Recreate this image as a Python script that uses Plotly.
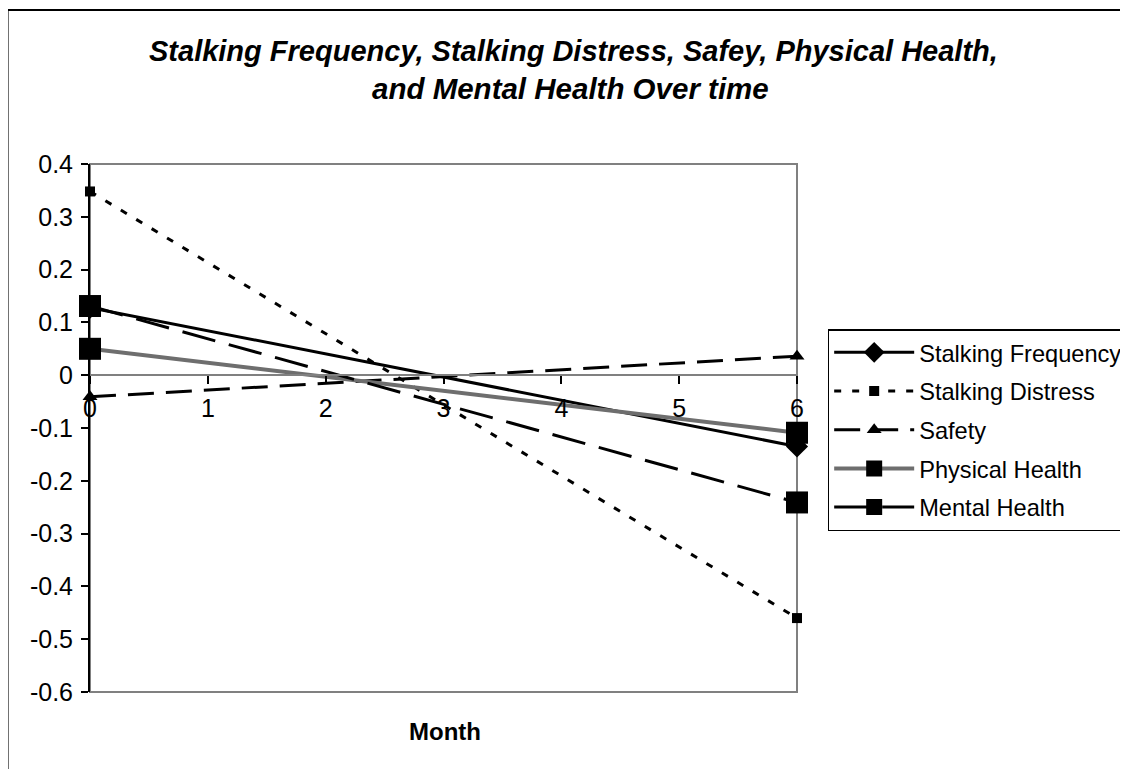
import plotly.graph_objects as go

months = [0, 6]
stalking_frequency = [0.128, -0.135]
stalking_distress = [0.348, -0.46]
safety = [-0.041, 0.036]
physical_health = [0.05, -0.109]
mental_health = [0.131, -0.241]

y_ticks = [0.4, 0.3, 0.2, 0.1, 0, -0.1, -0.2, -0.3, -0.4, -0.5, -0.6]
y_tick_labels = ["0.4", "0.3", "0.2", "0.1", "0", "-0.1", "-0.2", "-0.3", "-0.4", "-0.5", "-0.6"]
x_ticks = [0, 1, 2, 3, 4, 5, 6]

title_line1 = "Stalking Frequency, Stalking Distress, Safey, Physical Health,"
title_line2 = "and Mental Health Over time"

FONT = "Liberation Sans, Arial, sans-serif"

# screenshot offset of the page body (8px default margin)
OFF = 8
PL, PR, PT, PB = 89.5 - OFF, 797 - OFF, 164 - OFF, 692 - OFF
PW, PH = PR - PL, PB - PT
W, H = 1128, 769


def px_x(x):
    return (x - OFF - PL) / PW


def px_y(y):
    return (PB - (y - OFF)) / PH


series = [
    ("Stalking Frequency", stalking_frequency, dict(color="black", width=3, dash="solid"),
     dict(symbol="diamond", size=17, color="black")),
    ("Stalking Distress", stalking_distress, dict(color="black", width=3, dash="7px,11px"),
     dict(symbol="square", size=10, color="black")),
    ("Safety", safety, dict(color="black", width=3, dash="26px,12px"),
     dict(symbol="triangle-up", size=13, color="black")),
    ("Physical Health", physical_health, dict(color="#6e6e6e", width=4, dash="solid"),
     dict(symbol="square", size=22, color="black")),
    ("Mental Health", mental_health, dict(color="black", width=3, dash="34px,14px"),
     dict(symbol="square", size=22, color="black")),
]

fig = go.Figure()
for i, (name, vals, line, marker) in enumerate(series):
    fig.add_trace(go.Scatter(
        x=months, y=vals, name=name, mode="lines+markers",
        line=line, marker=marker, cliponaxis=False,
        legendgroup="g%d" % i,
    ))

fig.update_layout(
    width=W, height=H,
    margin=dict(l=PL, r=W - PR, t=PT, b=H - PB, autoexpand=False),
    paper_bgcolor="white", plot_bgcolor="white",
    font=dict(family=FONT, size=24, color="black"),
    showlegend=True,
    legend=dict(
        x=px_x(827.7), y=px_y(329), xanchor="left", yanchor="top",
        bgcolor="white", bordercolor="black", borderwidth=1.5,
        font=dict(family=FONT, size=23.6, color="black"),
        itemwidth=80, tracegroupgap=5,
        traceorder="grouped",
    ),
    xaxis=dict(
        range=[0, 6], tickvals=x_ticks, ticktext=[str(v) for v in x_ticks],
        anchor="free", position=0.6,
        showline=True, linecolor="#808080", linewidth=1.5,
        ticks="outside", ticklen=8, tickwidth=1.5, tickcolor="black",
        showgrid=False, zeroline=False,
        tickfont=dict(family=FONT, size=25, color="black"),
        ticklabelstandoff=3,
    ),
    yaxis=dict(
        range=[-0.6, 0.4], tickvals=y_ticks, ticktext=y_tick_labels,
        showline=True, linecolor="black", linewidth=2,
        ticks="outside", ticklen=7, tickwidth=1.5, tickcolor="black",
        showgrid=False, zeroline=False,
        tickfont=dict(family=FONT, size=25, color="black"),
        ticklabelstandoff=3,
    ),
    shapes=[
        dict(type="rect", xref="paper", yref="paper", x0=0, x1=1, y0=0, y1=1,
             line=dict(color="#808080", width=2), layer="below"),
        dict(type="rect", xref="paper", yref="paper", x0=px_x(7), x1=1.7, y0=-0.5, y1=px_y(10),
             line=dict(color="black", width=2), layer="below"),
    ],
    annotations=[
        dict(text="<b><i>%s</i></b>" % title_line1, xref="paper", yref="paper",
             x=px_x(573.5), y=px_y(51), xanchor="center", yanchor="middle", showarrow=False,
             font=dict(family=FONT, size=29, color="black")),
        dict(text="<b><i>%s</i></b>" % title_line2, xref="paper", yref="paper",
             x=px_x(570), y=px_y(89), xanchor="center", yanchor="middle", showarrow=False,
             font=dict(family=FONT, size=29.5, color="black")),
        dict(text="<b>Month</b>", xref="paper", yref="paper",
             x=px_x(445), y=px_y(731), xanchor="center", yanchor="middle",
             showarrow=False, font=dict(family=FONT, size=24, color="black")),
    ],
)

fig.write_html("out.html")
